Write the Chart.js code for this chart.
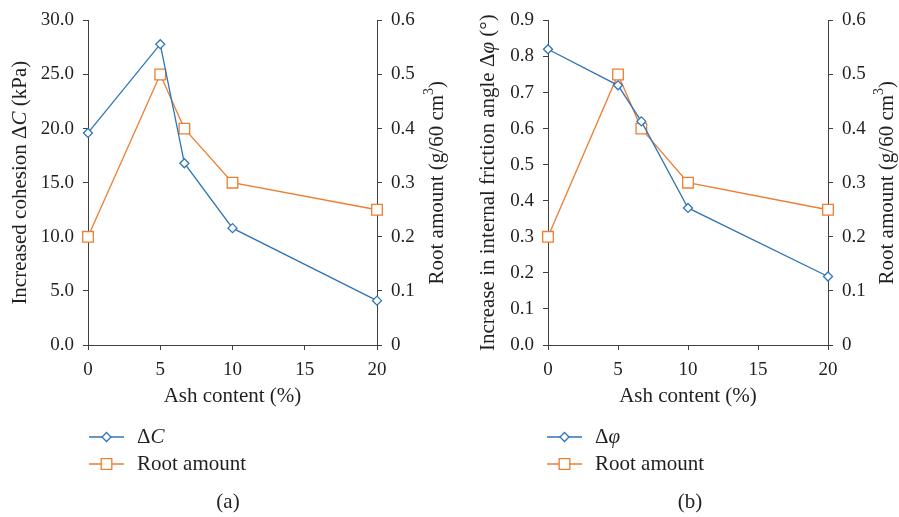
<!DOCTYPE html>
<html lang="en">
<head>
<meta charset="UTF-8">
<title>Ash content vs. cohesion, friction angle and root amount</title>
<style>
  body { margin: 0; background: #fff; }
  #wrap { position: relative; width: 899px; height: 517px; }
  .panel { position: absolute; top: 0; }
</style>
</head>
<body>
<div id="wrap">
  <div class="panel" style="left:0"><canvas id="chartA" width="450" height="517"></canvas></div>
  <div class="panel" style="left:450px"><canvas id="chartB" width="449" height="517"></canvas></div>
</div>

<script src="https://cdn.jsdelivr.net/npm/chart.js"></script>
<script>
// values
const ashContent = [0, 5, 6.67, 10, 20];          // %
const cohesionIncrease = [19.6, 27.8, 16.8, 10.8, 4.1];   // kPa
const frictionIncrease = [0.82, 0.72, 0.62, 0.38, 0.19];  // degrees
const rootAmount = [0.2, 0.5, 0.4, 0.3, 0.25];    // g/60 cm3

const BLUE = '#2E75B6';
const ORANGE = '#ED7D31';
const INK = '#231F20';
const AXIS = '#404040';
const SERIF = '"Liberation Serif", "DejaVu Serif", serif';
const TEXT_SIZE = 21;

function fontFor(p, size) {
  return (p.i ? 'italic ' : '') + (p.sup ? Math.round(size * 0.65) : size) + 'px ' + SERIF;
}

// draws a run of text pieces (some italic / superscript), optionally rotated
function drawRich(ctx, parts, x, y, opts) {
  const size = opts.size || TEXT_SIZE;
  ctx.save();
  ctx.translate(x, y);
  if (opts.rotate) ctx.rotate(-Math.PI / 2);
  let total = 0;
  parts.forEach(p => { ctx.font = fontFor(p, size); total += ctx.measureText(p.t).width; });
  let cx = opts.align === 'left' ? 0 : -total / 2;
  ctx.textBaseline = 'middle';
  ctx.textAlign = 'left';
  ctx.fillStyle = INK;
  parts.forEach(p => {
    ctx.font = fontFor(p, size);
    ctx.fillText(p.t, cx, p.sup ? -size * 0.35 : 0);
    cx += ctx.measureText(p.t).width;
  });
  ctx.restore();
}

function drawMarker(ctx, style, x, y, r, color) {
  ctx.save();
  ctx.fillStyle = '#fff';
  ctx.strokeStyle = color;
  ctx.lineWidth = 1.3;
  ctx.beginPath();
  if (style === 'rectRot') {
    ctx.moveTo(x, y - r); ctx.lineTo(x + r, y); ctx.lineTo(x, y + r); ctx.lineTo(x - r, y);
    ctx.closePath();
  } else {
    const s = r * Math.SQRT1_2;
    ctx.rect(x - s, y - s, 2 * s, 2 * s);
  }
  ctx.fill();
  ctx.stroke();
  ctx.restore();
}

// axis titles with mixed styles, legend and caption
const panelText = {
  id: 'panelText',
  afterDraw(chart, args, o) {
    const ctx = chart.ctx;
    const area = chart.chartArea;
    const midY = (area.top + area.bottom) / 2;
    drawRich(ctx, o.leftTitle, o.leftTitleX, midY, { rotate: true });
    drawRich(ctx, o.rightTitle, o.rightTitleX, midY, { rotate: true });

    chart.data.datasets.forEach((ds, i) => {
      const y = o.legendRows[i];
      ctx.save();
      ctx.strokeStyle = ds.borderColor;
      ctx.lineWidth = 1.5;
      ctx.beginPath();
      ctx.moveTo(o.legendX, y);
      ctx.lineTo(o.legendX + 35, y);
      ctx.stroke();
      ctx.restore();
      drawMarker(ctx, ds.pointStyle, o.legendX + 17.5, y, ds.pointRadius, ds.borderColor);
      drawRich(ctx, o.legendLabels[i], o.legendX + 48, y, { align: 'left' });
    });

    drawRich(ctx, [{ t: o.caption }], o.captionX, o.captionY, {});
  }
};

function axisCommon() {
  return {
    grid: { drawOnChartArea: false, color: AXIS, tickColor: AXIS, tickLength: 5 },
    border: { color: AXIS, width: 1 },
    ticks: { color: INK, font: { family: SERIF, size: 19 }, padding: 9 }
  };
}

function makeChart(id, cfg) {
  const xAxis = axisCommon();
  const yAxis = axisCommon();
  const y1Axis = axisCommon();
  return new Chart(document.getElementById(id), {
    type: 'line',
    data: {
      datasets: [{
        label: cfg.mainLabel,
        data: ashContent.map((x, i) => ({ x: x, y: cfg.mainValues[i] })),
        yAxisID: 'y',
        borderColor: BLUE,
        borderWidth: 1.3,
        pointStyle: 'rectRot',
        pointRadius: 4.5,
        pointBorderWidth: 1.3,
        pointBackgroundColor: '#fff',
        pointBorderColor: BLUE,
        clip: false
      }, {
        label: 'Root amount',
        data: ashContent.map((x, i) => ({ x: x, y: rootAmount[i] })),
        yAxisID: 'y1',
        borderColor: ORANGE,
        borderWidth: 1.3,
        pointStyle: 'rect',
        pointRadius: 7.5,
        pointBorderWidth: 1.3,
        pointBackgroundColor: '#fff',
        pointBorderColor: ORANGE,
        clip: false
      }]
    },
    options: {
      responsive: false,
      animation: false,
      layout: { padding: { top: 19, bottom: 108, left: 0, right: 0 } },
      scales: {
        x: Object.assign(xAxis, {
          type: 'linear', min: 0, max: 20,
          ticks: Object.assign(xAxis.ticks, { stepSize: 5 }),
          title: { display: true, text: 'Ash content (%)', color: INK,
                   font: { family: SERIF, size: TEXT_SIZE }, padding: 0 },
          afterFit: s => { s.height = 64; }
        }),
        y: Object.assign(yAxis, {
          position: 'left', min: 0, max: cfg.mainMax,
          ticks: Object.assign(yAxis.ticks, { stepSize: cfg.mainStep, callback: v => v.toFixed(1) }),
          afterFit: s => { s.width = cfg.leftWidth; }
        }),
        y1: Object.assign(y1Axis, {
          position: 'right', min: 0, max: 0.6,
          ticks: Object.assign(y1Axis.ticks, { stepSize: 0.1, callback: v => v === 0 ? '0' : v.toFixed(1) }),
          afterFit: s => { s.width = cfg.rightWidth; }
        })
      },
      plugins: {
        legend: { display: false },
        panelText: cfg.text
      }
    },
    plugins: [panelText]
  });
}

makeChart('chartA', {
  mainLabel: 'ΔC',
  mainValues: cohesionIncrease,
  mainMax: 30, mainStep: 5,
  leftWidth: 88, rightWidth: 73,
  text: {
    leftTitle: [{ t: 'Increased cohesion Δ' }, { t: 'C', i: true }, { t: ' (kPa)' }],
    leftTitleX: 20,
    rightTitle: [{ t: 'Root amount (g/60 cm' }, { t: '3', sup: true }, { t: ')' }],
    rightTitleX: 437,
    legendX: 89, legendRows: [437, 464],
    legendLabels: [[{ t: 'Δ' }, { t: 'C', i: true }], [{ t: 'Root amount' }]],
    caption: '(a)', captionX: 228, captionY: 502
  }
});

makeChart('chartB', {
  mainLabel: 'Δφ',
  mainValues: frictionIncrease,
  mainMax: 0.9, mainStep: 0.1,
  leftWidth: 98, rightWidth: 71,
  text: {
    leftTitle: [{ t: 'Increase in internal friction angle Δ' }, { t: 'φ', i: true }, { t: ' (°)' }],
    leftTitleX: 38,
    rightTitle: [{ t: 'Root amount (g/60 cm' }, { t: '3', sup: true }, { t: ')' }],
    rightTitleX: 437,
    legendX: 97, legendRows: [437, 464],
    legendLabels: [[{ t: 'Δ' }, { t: 'φ', i: true }], [{ t: 'Root amount' }]],
    caption: '(b)', captionX: 240, captionY: 502
  }
});
</script>
</body>
</html>
